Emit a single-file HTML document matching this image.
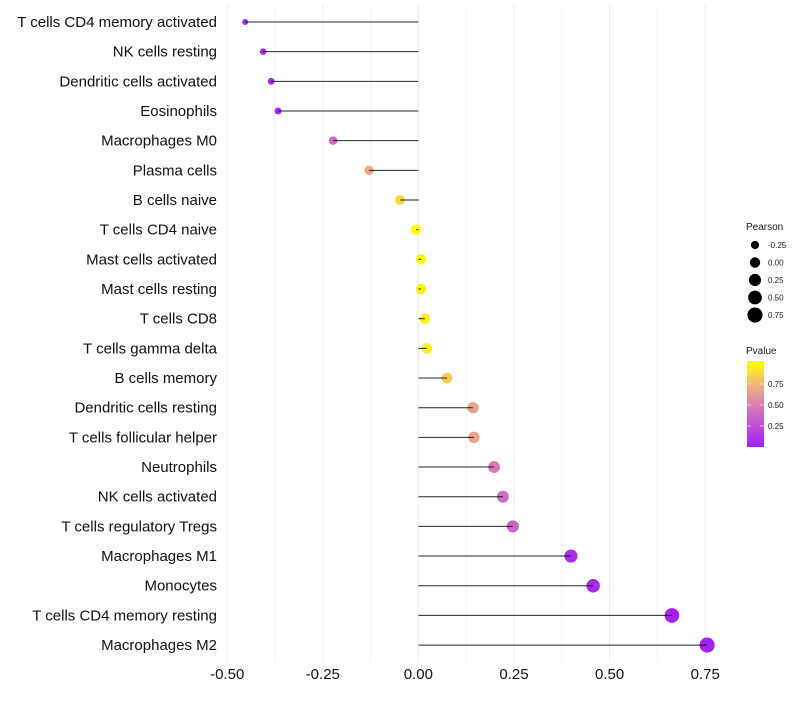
<!DOCTYPE html>
<html><head><meta charset="utf-8"><style>
body{margin:0;background:#fff;font-family:"Liberation Sans",sans-serif}
</style></head><body>
<svg id="c" width="800" height="700" xmlns="http://www.w3.org/2000/svg"></svg>
<script>
const categories=["T cells CD4 memory activated","NK cells resting","Dendritic cells activated","Eosinophils","Macrophages M0","Plasma cells","B cells naive","T cells CD4 naive","Mast cells activated","Mast cells resting","T cells CD8","T cells gamma delta","B cells memory","Dendritic cells resting","T cells follicular helper","Neutrophils","NK cells activated","T cells regulatory  Tregs","Macrophages M1","Monocytes","T cells CD4 memory resting","Macrophages M2"];
const pearson=[-0.453,-0.406,-0.385,-0.367,-0.223,-0.129,-0.048,-0.006,0.007,0.007,0.017,0.022,0.075,0.143,0.145,0.198,0.221,0.247,0.399,0.457,0.663,0.755];
const pvalue=[0.05,0.05,0.05,0.06,0.4,0.68,0.85,1.0,0.97,0.96,0.95,0.93,0.8,0.65,0.65,0.45,0.4,0.35,0.08,0.05,0.01,0.005];
const xTicks=[-0.5,-0.25,0,0.25,0.5,0.75];
const xTickLabels=["-0.50","-0.25","0.00","0.25","0.50","0.75"];
const sizeLegend=[-0.25,0,0.25,0.5,0.75];
const sizeLegendLabels=["-0.25","0.00","0.25","0.50","0.75"];
const colorLegend=[0.75,0.5,0.25];
const colorLegendLabels=["0.75","0.50","0.25"];

const NS="http://www.w3.org/2000/svg";
const svg=document.getElementById('c');
const x=v=>418.4+v*382.4;
const y=i=>22+i*29.67;
const r=v=>Math.sqrt(Math.max(1,27+40*v));
function lerp(a,b,t){return a.map((c,i)=>Math.round(c+(b[i]-c)*t));}
const stops=[[0,[160,32,240]],[0.3,[196,90,210]],[0.5,[218,128,178]],[0.7,[238,176,132]],[1,[255,255,0]]];
function col(p){for(let k=1;k<stops.length;k++){if(p<=stops[k][0]){const a=stops[k-1],b=stops[k];return `rgb(${lerp(a[1],b[1],(p-a[0])/(b[0]-a[0]))})`;}}return 'rgb(255,255,0)';}
function mk(tag,attrs,parent){const e=document.createElementNS(NS,tag);for(const k in attrs)e.setAttribute(k,attrs[k]);(parent||svg).appendChild(e);return e;}
for(let v=-0.5;v<=0.751;v+=0.125){const g=mk('line',{x1:x(v),x2:x(v),y1:5,y2:662,stroke:'#ebebeb','stroke-width':Math.abs((v*4)%1)<0.01?1:0.6});

}
categories.forEach((c,i)=>{
 const d=mk('circle',{cx:x(pearson[i]),cy:y(i),r:r(pearson[i]),fill:col(pvalue[i])});
 
 
 const s=mk('line',{x1:x(0),x2:x(pearson[i]),y1:y(i),y2:y(i),stroke:'#000','stroke-width':1,'stroke-opacity':0.85});
 
 
 const t=mk('text',{x:217,y:y(i)+5,'text-anchor':'end','font-size':15,fill:'#111'});
 t.textContent=c;
 
 
});
xTicks.forEach((v,i)=>{const t=mk('text',{x:x(v),y:679,'text-anchor':'middle','font-size':15,fill:'#111'});
t.textContent=xTickLabels[i];

});
let tt=mk('text',{x:746,y:230,'font-size':10,fill:'#1a1a1a'});tt.textContent='Pearson';


sizeLegend.forEach((v,i)=>{const cy=245+i*17.5;
 const c=mk('circle',{cx:755,cy:cy,r:r(v),fill:'#000'});
 
 
 const t=mk('text',{x:768,y:cy+3,'font-size':8,fill:'#1a1a1a'});t.textContent=sizeLegendLabels[i];
 
 });
tt=mk('text',{x:746,y:354,'font-size':10,fill:'#1a1a1a'});tt.textContent='Pvalue';


const defs=mk('defs',{});const lg=mk('linearGradient',{id:'g',x1:0,y1:1,x2:0,y2:0},defs);
for(let k=0;k<=10;k++)mk('stop',{offset:k/10,'stop-color':col(k/10)},lg);
const bar=mk('rect',{x:747,y:361,width:17,height:86,fill:'url(#g)'});


colorLegend.forEach((v,i)=>{const cy=447-v*84;
 mk('line',{x1:747,x2:751,y1:cy,y2:cy,stroke:'#fff','stroke-opacity':0.6});
 mk('line',{x1:760,x2:764,y1:cy,y2:cy,stroke:'#fff','stroke-opacity':0.6});
 const t=mk('text',{x:768,y:cy+3,'font-size':8,fill:'#1a1a1a'});t.textContent=colorLegendLabels[i];
 
 });
</script>
</body></html>
